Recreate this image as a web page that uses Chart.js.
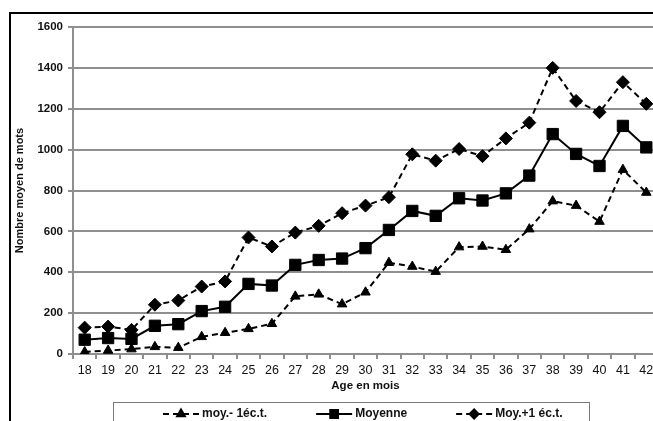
<!DOCTYPE html>
<html>
<head>
<meta charset="utf-8">
<script src="https://cdn.jsdelivr.net/npm/chart.js"></script>
<style>
  html, body { margin: 0; padding: 0; background: #fff; overflow: hidden; }
  #wrap { position: relative; width: 680px; height: 421px; }
</style>
</head>
<body>
<div id="wrap"><canvas id="chart-mots"></canvas></div>
<script>
const ages = ["18","19","20","21","22","23","24","25","26","27","28","29","30",
  "31","32","33","34","35","36","37","38","39","40","41","42"];

const moyMoins = [10, 17, 24, 35, 31, 84, 104, 123, 148, 282, 292, 244, 302,
  447, 428, 403, 523, 526, 510, 611, 748, 726, 648, 902, 790];

const moyenne = [70, 78, 74, 138, 146, 210, 231, 343, 335, 436, 460, 467, 518,
  607, 700, 676, 762, 751, 786, 873, 1076, 979, 920, 1116, 1011];

const moyPlus = [129, 134, 118, 241, 262, 330, 355, 570, 526, 594, 627, 689, 726,
  767, 977, 946, 1003, 968, 1055, 1132, 1400, 1238, 1183, 1330, 1224];

const yMin = 0, yMax = 1600, yStep = 200;

const GRID = "#8f8f8f";
const INK = "#111";

// cadre noir + légende encadrée
const decor = {
  id: "decor",
  beforeDraw(chart) {
    const ctx = chart.ctx;
    ctx.save();
    ctx.fillStyle = "#000";
    ctx.fillRect(9, 12, 2, chart.height - 12);
    ctx.fillRect(9, 12, chart.width - 9, 2);
    ctx.restore();
  },
  afterDraw(chart) {
    const ctx = chart.ctx;
    ctx.save();
    ctx.strokeStyle = "#7a7a7a";
    ctx.lineWidth = 1;
    ctx.strokeRect(113.5, 402.5, 476, 40);

    ctx.font = "bold 12px 'Liberation Sans', Arial, sans-serif";
    ctx.textBaseline = "middle";
    ctx.fillStyle = INK;
    const y = 414;
    const markers = [4.5, 5.5, 4.5];
    let x = 163;
    chart.data.datasets.forEach((ds, i) => {
      ctx.save();
      ctx.strokeStyle = "#000";
      ctx.lineWidth = 2;
      ctx.setLineDash(ds.borderDash || []);
      ctx.beginPath();
      ctx.moveTo(x, y);
      ctx.lineTo(x + 36, y);
      ctx.stroke();
      ctx.setLineDash([]);
      ctx.fillStyle = "#000";
      Chart.helpers.drawPoint(ctx, {
        pointStyle: ds.pointStyle, radius: markers[i], rotation: 0, borderWidth: 1
      }, x + 18, y);
      ctx.restore();
      ctx.fillText(ds.label, x + 39, y);
      x += 39 + ctx.measureText(ds.label).width + 49;
    });
    ctx.restore();
  }
};

const ctx = document.getElementById("chart-mots").getContext("2d");

new Chart(ctx, {
  type: "line",
  data: {
    labels: ages,
    datasets: [
      {
        label: "moy.- 1éc.t.",
        data: moyMoins,
        borderColor: "#000",
        backgroundColor: "#000",
        borderWidth: 2,
        borderDash: [6, 4],
        pointStyle: "triangle",
        pointRadius: 5.5,
        pointBorderWidth: 1,
        tension: 0
      },
      {
        label: "Moyenne",
        data: moyenne,
        borderColor: "#000",
        backgroundColor: "#000",
        borderWidth: 2,
        pointStyle: "rect",
        pointRadius: 8,
        pointBorderWidth: 1,
        tension: 0
      },
      {
        label: "Moy.+1 éc.t.",
        data: moyPlus,
        borderColor: "#000",
        backgroundColor: "#000",
        borderWidth: 2,
        borderDash: [6, 4],
        pointStyle: "rectRot",
        pointRadius: 6.5,
        pointBorderWidth: 1,
        tension: 0
      }
    ]
  },
  options: {
    responsive: true,
    maintainAspectRatio: false,
    animation: false,
    devicePixelRatio: 1,
    layout: { padding: { top: 27, right: 22, bottom: 27, left: 0 } },
    plugins: {
      legend: { display: false },
      tooltip: { enabled: false }
    },
    scales: {
      x: {
        offset: true,
        afterFit: (s) => { s.height = 40; },
        grid: {
          offset: true,
          drawOnChartArea: false,
          drawTicks: true,
          tickLength: 5,
          color: GRID,
          lineWidth: 2
        },
        border: { color: GRID, width: 2 },
        ticks: {
          color: INK,
          padding: 4,
          maxRotation: 0,
          autoSkip: false,
          font: { family: "'Liberation Sans', Arial, sans-serif", size: 12.5 }
        },
        title: {
          display: true,
          text: "Age en mois",
          color: INK,
          padding: { top: 0, bottom: 1 },
          font: { family: "'Liberation Sans', Arial, sans-serif", size: 11.5, weight: "bold" }
        }
      },
      y: {
        min: yMin,
        max: yMax,
        afterFit: (s) => { s.width = 73; },
        grid: {
          color: GRID,
          lineWidth: 2,
          tickLength: 5
        },
        border: { color: GRID, width: 2 },
        ticks: {
          stepSize: yStep,
          color: INK,
          padding: 5,
          callback: (v) => String(v),
          font: { family: "'Liberation Sans', Arial, sans-serif", size: 11.5, weight: "bold" }
        },
        title: {
          display: true,
          text: "Nombre moyen de mots",
          color: INK,
          padding: { top: 13, bottom: 0 },
          font: { family: "'Liberation Sans', Arial, sans-serif", size: 11, weight: "bold" }
        }
      }
    }
  },
  plugins: [decor]
});
</script>
</body>
</html>
